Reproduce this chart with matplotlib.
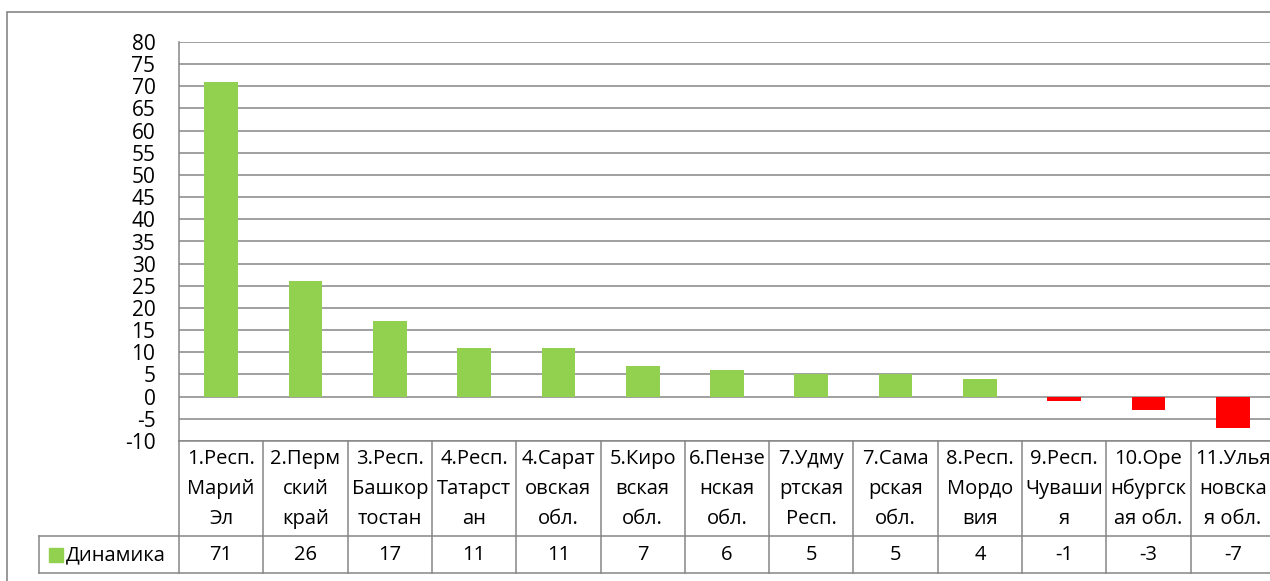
import matplotlib
matplotlib.use("Agg")
import matplotlib.pyplot as plt
from matplotlib.patches import Rectangle
from matplotlib.lines import Line2D
import matplotlib.transforms as mtransforms

plt.rcParams['font.family'] = ['Open Sans', 'DejaVu Sans']

categories = [
    "1.Респ.\nМарий\nЭл",
    "2.Перм\nский\nкрай",
    "3.Респ.\nБашкор\nтостан",
    "4.Респ.\nТатарст\nан",
    "4.Сарат\nовская\nобл.",
    "5.Киро\nвская\nобл.",
    "6.Пензе\nнская\nобл.",
    "7.Удму\nртская\nРесп.",
    "7.Сама\nрская\nобл.",
    "8.Респ.\nМордо\nвия",
    "9.Респ.\nЧуваши\nя",
    "10.Оре\nнбургск\nая обл.",
    "11.Улья\nновска\nя обл.",
]
values = [71, 26, 17, 11, 11, 7, 6, 5, 5, 4, -1, -3, -7]
series_name = "Динамика"
yticks = list(range(-10, 81, 5))

GREEN = "#92D050"
RED = "#FF0000"
GRID = "#868686"

W, H = 1270, 581
fig = plt.figure(figsize=(W / 100, H / 100), dpi=100)
fig.patch.set_facecolor("white")

# outer chart border (extends beyond right/bottom edges)
fig.patches.append(Rectangle((7 / W, -0.1), 1.2, 1 - 12 / H + 0.1,
                             transform=fig.transFigure, fill=False,
                             edgecolor=GRID, linewidth=1.2))

ax_left, ax_right = 179, 1275
ax_top, ax_bottom = 42, 441
ax = fig.add_axes([ax_left / W, 1 - ax_bottom / H,
                   (ax_right - ax_left) / W, (ax_bottom - ax_top) / H])

n = len(categories)
x = list(range(n))
colors = [GREEN if v >= 0 else RED for v in values]
ax.bar(x, values, width=0.4, color=colors, zorder=3)

ax.set_xlim(-0.5, n - 0.5)
ax.set_ylim(-10, 80)
ax.set_yticks(yticks)
ax.set_yticklabels([str(t) for t in yticks], fontsize=15)
ax.tick_params(axis='y', length=0, pad=17)
ax.set_xticks([])
ax.yaxis.grid(True, color=GRID, linewidth=1.1, zorder=0)
for s in ["top", "right", "bottom"]:
    ax.spines[s].set_visible(False)
ax.spines["left"].set_color(GRID)
ax.spines["left"].set_linewidth(1.1)

# data table below the axes
ah = ax_bottom - ax_top
aw = ax_right - ax_left
def ay(px):
    return -(px - ax_bottom) / ah
def axf(px):
    return (px - ax_left) / aw

y_top = 0.0
y_mid = ay(536)
y_bot = ay(573)
trans = mtransforms.blended_transform_factory(ax.transData, ax.transAxes)

lk = dict(color=GRID, linewidth=1.1, clip_on=False)
# horizontal lines
ax.add_line(Line2D([-0.5, n - 0.5], [y_top, y_top], transform=trans, **lk))
ax.add_line(Line2D([axf(39), 1.2], [y_mid, y_mid], transform=ax.transAxes, **lk))
ax.add_line(Line2D([axf(39), 1.2], [y_bot, y_bot], transform=ax.transAxes, **lk))
# vertical lines
for i in range(n + 1):
    ax.add_line(Line2D([i - 0.5, i - 0.5], [y_top, y_bot], transform=trans, **lk))
ax.add_line(Line2D([axf(39), axf(39)], [y_mid, y_bot], transform=ax.transAxes, **lk))

for i, (c, v) in enumerate(zip(categories, values)):
    ax.text(i, ay(489), c, transform=trans, ha='center', va='center',
            fontsize=14.5, linespacing=1.65, clip_on=False)
    ax.text(i, ay(555), str(v), transform=trans, ha='center', va='center',
            fontsize=14.5, clip_on=False)

# legend key in table
ax.add_patch(Rectangle((axf(49), ay(562)), axf(63) - axf(49), ay(548) - ay(562),
                       transform=ax.transAxes, color=GREEN, clip_on=False))
ax.text(axf(66), ay(555), series_name, transform=ax.transAxes, ha='left', va='center',
        fontsize=14.5, clip_on=False)

fig.savefig("out.png", dpi=100)
